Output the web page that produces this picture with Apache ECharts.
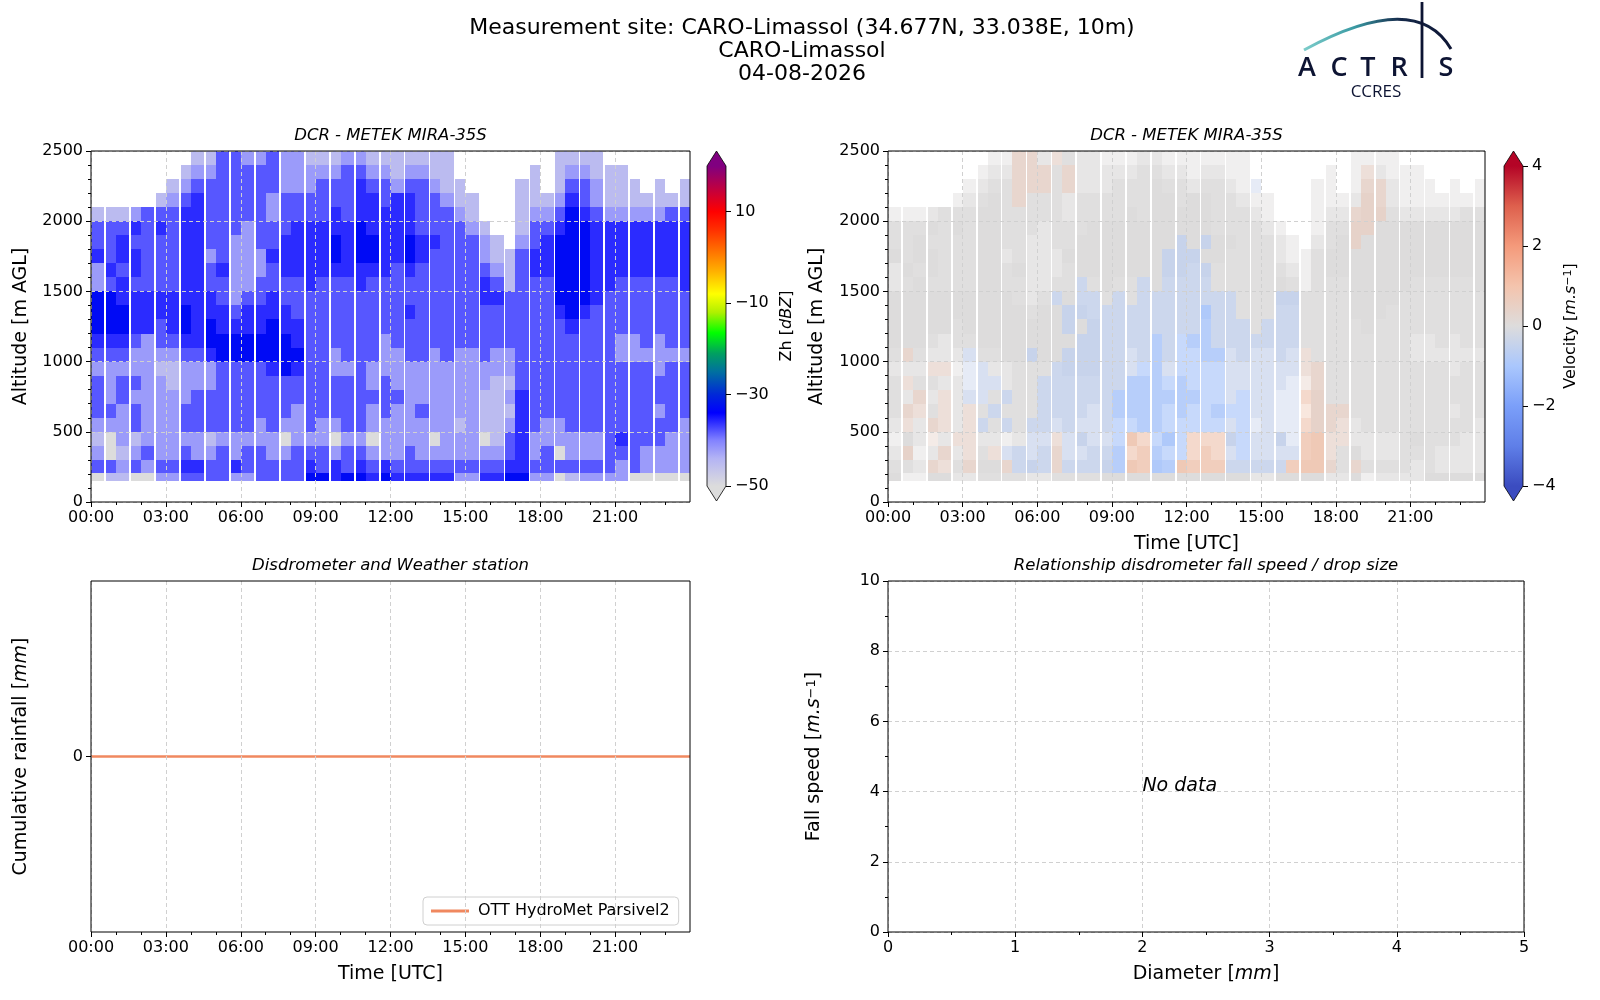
<!DOCTYPE html>
<html>
<head>
<meta charset="utf-8">
<title>CARO-Limassol quicklook 04-08-2026</title>
<script src="https://cdn.jsdelivr.net/npm/echarts@6.0.0/dist/echarts.min.js"></script>
<style>
  html, body { margin: 0; padding: 0; background: #ffffff; }
  #chart { width: 1600px; height: 1000px; }
</style>
</head>
<body>
<div id="chart"></div>
<script>
const FONT = '"DejaVu Sans", sans-serif'

// ticks
const hourTicks = [0, 3, 6, 9, 12, 15, 18, 21]
const zhBarTicks = [-50, -30, -10, 10]
const velBarTicks = [-4, -2, 0, 2, 4]
const rainTicks = [0]

// radar gates (m AGL) and the minutes of each hour that hold data (short gap at ~hh:33)
const altEdges = [150, 210, 300, 400, 500, 600, 700, 800, 900, 1000, 1100, 1200, 1300,
  1400, 1500, 1600, 1700, 1800, 1900, 2000, 2100, 2200, 2300, 2400, 2500]
const scanStartMin = [0, 36]
const scanEndMin = [32, 60]

// reflectivity, one row per gate (top -> bottom), one char per half hour, 3 h per block
// '.' no echo, g grey (<= -50), 1..5 faint -> dense
const zhRows = [
  '...... ..1133 223221 112211 11111. ...... .1111. ......',
  '...... .12233 333222 223322 12211. .....1 .12211 1.....',
  '...... 123333 333222 333433 233211 ....11 .13321 11.1.1',
  '.....1 234333 332333 333443 443321 1...11 124321 111111',
  '111233 344333 332333 343444 443332 1...12 235432 222233',
  '333434 344333 233344 444544 443333 21..13 345544 444444',
  '334333 344332 233444 454554 454433 321.23 455544 444444',
  '434433 344232 224444 454554 454333 321134 455544 444444',
  '243433 344342 223444 444444 343333 332134 455544 444444',
  '234333 344332 233334 333433 333333 343133 355544 333334',
  '554444 444432 334333 333333 333333 344333 355543 333333',
  '555444 454443 444433 333333 343333 333333 345433 333333',
  '555443 454544 445443 333333 333333 333333 334333 333333',
  '444323 344555 555543 333332 333333 333333 333333 223233',
  '333222 233455 555553 323332 233232 232233 333333 222222',
  '222221 122233 334543 322322 222222 222233 333333 333233',
  '323322 122233 333333 333323 222222 221133 333333 333333',
  '323222 223333 333333 333333 322222 211243 333333 333333',
  '332322 233333 333323 333323 223222 211143 333333 333233',
  '222322 233333 323223 223322 222221 211243 223333 333332',
  '1g2122 222122 222g22 2g22g2 222g22 2g1342 222223 433322',
  '2g1232 232232 332233 323322 232222 222342 3g2223 332222',
  '332323 344334 333334 343434 333333 333443 333333 232222',
  'g11gg2 233332 233335 545545 444442 244552 2g1222 2ggggg'
]
const zhLevel = { g: -50, 1: -45, 2: -42, 3: -38, 4: -36, 5: -33 }

// doppler velocity on the same grid: 0 still, p/P up, b/B down
const velRows = [
  '...... ..00pp 0p0000 000000 00000. ...... .0000. ......',
  '...... .000pp p0p000 000000 00000. .....0 .0p000 0.....',
  '...... 0000pp p0p000 000000 00000b ....00 .0pp00 00.0.0',
  '.....0 0000p0 000000 000000 000000 0...00 00pp00 000000',
  '000000 000000 000000 000000 000000 0...00 0ppp00 000000',
  '000000 000000 000000 000000 000000 00..00 0pp000 000000',
  '000000 000000 000000 00000b 0b0000 000.00 0p0000 000000',
  '000000 000000 000000 0000bb b00000 000000 000000 000000',
  '000000 000000 000000 0000bb bb0000 000000 000000 000000',
  '000000 000000 000b00 00b0bb bb0000 000000 000000 000000',
  '000000 000000 0b0bb0 b0bbbb bbbb00 0bb000 000000 000000',
  '000000 000000 00bbbb bbbbbb bBbb00 0bb000 000000 000000',
  '000000 000000 00b0bb bbbbbb bBbbb0 bbb000 000000 000000',
  '000000 000000 000bbb bbbBbB BBbbbb bbb000 000000 000000',
  '0p0000 b0000b 00bbbb bbbBbB BBBbbb bbbp00 000000 000000',
  '000pp0 bb0000 0bbbbb bbBBbB BBBbbb bbbpp0 000000 000000',
  '0p0000 bbb000 bbbbbb bBBBBB BBBbbb bbbpp0 000000 000000',
  '00p0p0 bb0b00 bbbbbb BBBBBB BBBbBb bbbPp0 000000 000000',
  '0pp0p0 p0b000 bbbbbb BBBBBB BBBBBb bbbPpp p00000 000000',
  '0p0pp0 pb0b0b bbbbbb BBBBBB BBBbBb bbbPpp p00000 000000',
  '000p0p p0000b bpbbbb BPPBBB PPPbBb bbbPPp p00000 000000',
  '0p00p0 p0pbbb bpbbbb BPPBBB PPPbBb bbbPPp 000000 000000',
  '000pp0 p00pbb bpbbbb BPPBBP PPPbbb bbPPPp 0p0000 000000',
  '000000 000000 000000 000000 000000 000000 000000 000000'
]
const velLevel = { 0: 0, p: 0.4, P: 0.8, b: -0.45, B: -0.9 }
// how filled a velocity cell looks, taken from the reflectivity code of the same cell
const velCover = { g: 1, 1: 0.45, 2: 0.7, 3: 0.9, 4: 1, 5: 1 }

// disdrometer
const rainHours = [0, 24]
const rainMm = [0, 0]
const noDataAt = [2, 4]

// colour maps
const zhStops = [
  [-50, '#dcdcdc'], [-44, '#b4b4f4'], [-40, '#8282ff'], [-34, '#0000ff'], [-30, '#0028d8'],
  [-25, '#0070a0'], [-21, '#00a060'], [-16.5, '#00ff00'], [-12, '#b0f000'], [-8, '#ffff00'],
  [-3, '#ffb000'], [1.5, '#ff7000'], [6, '#ff3000'], [10, '#ff0000'], [15, '#c00040'], [20, '#800080']
]
const velStops = [
  [-4, '#3b4cc0'], [-3, '#5f7fe8'], [-2, '#7b9ff9'], [-1, '#aac7fd'], [0, '#dddcdc'],
  [1, '#f4c4ad'], [2, '#f49a7b'], [3, '#de604d'], [4, '#b40426']
]

function hexToRgb(h) {
  return [parseInt(h.slice(1, 3), 16), parseInt(h.slice(3, 5), 16), parseInt(h.slice(5, 7), 16)]
}
function colorAt(stops, v) {
  if (v <= stops[0][0]) return stops[0][1]
  for (let i = 1; i < stops.length; i++) {
    if (v <= stops[i][0]) {
      const t = (v - stops[i - 1][0]) / (stops[i][0] - stops[i - 1][0])
      const a = hexToRgb(stops[i - 1][1])
      const b = hexToRgb(stops[i][1])
      return 'rgb(' + a.map((x, k) => Math.round(x + (b[k] - x) * t)).join(',') + ')'
    }
  }
  return stops[stops.length - 1][1]
}
function palette(stops, lo, hi, n) {
  const out = []
  for (let i = 0; i <= n; i++) out.push(colorAt(stops, lo + (hi - lo) * i / n))
  return out
}

function buildCells(rows, levels, coverRows, cover) {
  const cells = []
  const nRow = altEdges.length - 1
  rows.forEach((row, r) => {
    const codes = row.replace(/ /g, '')
    const coverCodes = coverRows ? coverRows[r].replace(/ /g, '') : null
    const top = altEdges[nRow - r]
    const bottom = altEdges[nRow - r - 1]
    for (let c = 0; c < codes.length; c++) {
      const ch = codes[c]
      if (levels[ch] === undefined) continue
      const a = coverCodes ? cover[coverCodes[c]] : 1
      if (a === undefined) continue
      const hour = Math.floor(c / 2)
      const half = c % 2
      cells.push([hour + scanStartMin[half] / 60, hour + scanEndMin[half] / 60, bottom, top, levels[ch], a])
    }
  })
  return cells
}

const zhCells = buildCells(zhRows, zhLevel, null, null)
const velCells = buildCells(velRows, velLevel, zhRows, velCover)

function renderCell(params, api) {
  const a = api.coord([api.value(0), api.value(3)])
  const b = api.coord([api.value(1), api.value(2)])
  const x0 = Math.round(a[0]), y0 = Math.round(a[1])
  const x1 = Math.round(b[0]), y1 = Math.round(b[1])
  return {
    type: 'rect',
    shape: { x: x0, y: y0, width: x1 - x0, height: y1 - y0 },
    style: { fill: api.visual('color'), opacity: api.value(5) }
  }
}

function colorbarRenderer(stops) {
  const lo = stops[0][0]
  const hi = stops[stops.length - 1][0]
  return function (params, api) {
    const a = api.coord([api.value(0), api.value(3)])
    const b = api.coord([api.value(1), api.value(2)])
    const x0 = a[0], x1 = b[0], yTop = a[1], yBot = b[1]
    const mid = (x0 + x1) / 2
    const tip = 15
    const grad = new echarts.graphic.LinearGradient(0, 0, 0, 1,
      stops.slice().reverse().map(s => ({ offset: (hi - s[0]) / (hi - lo), color: s[1] })))
    return {
      type: 'group',
      children: [
        { type: 'rect', shape: { x: x0, y: yTop, width: x1 - x0, height: yBot - yTop }, style: { fill: grad } },
        { type: 'polygon', shape: { points: [[x0, yTop], [x1, yTop], [mid, yTop - tip]] }, style: { fill: stops[stops.length - 1][1] } },
        { type: 'polygon', shape: { points: [[x0, yBot], [x1, yBot], [mid, yBot + tip]] }, style: { fill: stops[0][1] } },
        {
          type: 'polygon',
          shape: { points: [[mid, yBot + tip], [x0, yBot], [x0, yTop], [mid, yTop - tip], [x1, yTop], [x1, yBot]] },
          style: { fill: 'none', stroke: '#000', lineWidth: 0.8 }
        }
      ]
    }
  }
}

const fmtHour = v => (v < 10 ? '0' : '') + v + ':00'
const fmtNum = v => (v < 0 ? '\u2212' + Math.abs(v) : String(v))

const tickText = { fontSize: 16, fontFamily: FONT, color: '#000' }
const nameText = {
  fontSize: 19, fontFamily: FONT, color: '#000',
  rich: {
    i: { fontSize: 19, fontFamily: FONT, fontStyle: 'italic', color: '#000' },
    sup: { fontSize: 13, fontFamily: FONT, color: '#000', verticalAlign: 'top', lineHeight: 13 }
  }
}
const cbarNameText = {
  fontSize: 16, fontFamily: FONT, color: '#000',
  rich: {
    i: { fontSize: 16, fontFamily: FONT, fontStyle: 'italic', color: '#000' },
    sup: { fontSize: 11, fontFamily: FONT, color: '#000', verticalAlign: 'top', lineHeight: 11 }
  }
}
const gridDash = { show: true, lineStyle: { color: '#d0d0d0', type: [4, 3], width: 1 } }
const tickStyle = { color: '#000', width: 1 }

function timeAxis(gridIndex, name) {
  return {
    type: 'value', gridIndex, min: 0, max: 24, interval: 3, z: 5,
    name, nameLocation: 'middle', nameGap: 33, nameTextStyle: nameText,
    axisLine: { show: false, onZero: false },
    axisTick: { show: true, length: 5, lineStyle: tickStyle, customValues: hourTicks },
    minorTick: { show: true, splitNumber: 3, length: 3, lineStyle: tickStyle },
    axisLabel: { customValues: hourTicks, formatter: fmtHour, margin: 8, ...tickText },
    splitLine: gridDash
  }
}
function altAxis(gridIndex, gap) {
  return {
    type: 'value', gridIndex, min: 0, max: 2500, interval: 500, z: 5,
    name: 'Altitude [m AGL]', nameLocation: 'middle', nameRotate: 90, nameGap: gap, nameTextStyle: nameText,
    axisLine: { show: false, onZero: false },
    axisTick: { show: true, length: 5, lineStyle: tickStyle },
    minorTick: { show: true, splitNumber: 5, length: 3, lineStyle: tickStyle },
    axisLabel: { margin: 8, formatter: fmtNum, ...tickText },
    splitLine: gridDash
  }
}
function cbarAxis(gridIndex, lo, hi, ticks, name, gap) {
  return {
    type: 'value', gridIndex, min: lo, max: hi, position: 'right',
    name, nameLocation: 'middle', nameRotate: 90, nameGap: gap, nameTextStyle: cbarNameText,
    axisLine: { show: false, onZero: false },
    axisTick: { show: true, length: 5, lineStyle: tickStyle, customValues: ticks },
    axisLabel: { customValues: ticks, formatter: fmtNum, margin: 9, ...tickText },
    splitLine: { show: false }
  }
}
const hiddenAxis = gridIndex => ({ type: 'value', gridIndex, min: 0, max: 1, show: false })

const boxed = { show: true, borderColor: '#000', borderWidth: 1, backgroundColor: 'transparent', z: 10 }

const subTitle = (x, y, text) => ({
  type: 'text', x, y, z: 20,
  style: { text, font: 'italic 16.5px ' + FONT, fill: '#000', align: 'center', verticalAlign: 'middle' }
})
const logoLetter = (x, ch) => ({
  type: 'text', x, y: 68, z: 20,
  style: { text: ch, font: '600 27px "Open Sans", sans-serif', fill: '#0d1433', align: 'center', verticalAlign: 'middle' }
})

const option = {
  animation: false,
  backgroundColor: '#ffffff',
  grid: [
    { left: 91, top: 151, width: 599, height: 351, ...boxed },
    { left: 888, top: 151, width: 597, height: 351, ...boxed },
    { left: 91, top: 581, width: 599, height: 351, ...boxed },
    { left: 888, top: 581, width: 636, height: 351, ...boxed },
    { left: 707, top: 166, width: 19, height: 320, show: false },
    { left: 1504, top: 166, width: 19, height: 320, show: false }
  ],
  xAxis: [
    timeAxis(0, ''),
    timeAxis(1, 'Time [UTC]'),
    timeAxis(2, 'Time [UTC]'),
    {
      type: 'value', gridIndex: 3, min: 0, max: 5, interval: 1, z: 5,
      name: 'Diameter [{i|mm}]', nameLocation: 'middle', nameGap: 33, nameTextStyle: nameText,
      axisLine: { show: false, onZero: false },
      axisTick: { show: true, length: 5, lineStyle: tickStyle },
      minorTick: { show: true, splitNumber: 2, length: 3, lineStyle: tickStyle },
      axisLabel: { margin: 8, ...tickText },
      splitLine: gridDash
    },
    hiddenAxis(4),
    hiddenAxis(5)
  ],
  yAxis: [
    altAxis(0, 60),
    altAxis(1, 61),
    {
      type: 'value', gridIndex: 2, min: -0.055, max: 0.055, z: 5,
      name: 'Cumulative rainfall [{i|mm}]', nameLocation: 'middle', nameRotate: 90, nameGap: 60, nameTextStyle: nameText,
      axisLine: { show: false, onZero: false },
      axisTick: { show: true, length: 5, lineStyle: tickStyle, customValues: rainTicks },
      axisLabel: { customValues: rainTicks, margin: 8, ...tickText },
      splitLine: { show: false }
    },
    {
      type: 'value', gridIndex: 3, min: 0, max: 10, interval: 2, z: 5,
      name: 'Fall speed [{i|m.s}{sup|\u22121}]', nameLocation: 'middle', nameRotate: 90, nameGap: 64, nameTextStyle: nameText,
      axisLine: { show: false, onZero: false },
      axisTick: { show: true, length: 5, lineStyle: tickStyle },
      minorTick: { show: true, splitNumber: 2, length: 3, lineStyle: tickStyle },
      axisLabel: { margin: 8, ...tickText },
      splitLine: gridDash
    },
    cbarAxis(4, -50, 20, zhBarTicks, 'Zh [{i|dBZ}]', 53),
    cbarAxis(5, -4, 4, velBarTicks, 'Velocity [{i|m.s}{sup|\u22121}]', 40)
  ],
  visualMap: [
    {
      type: 'continuous', show: false, seriesIndex: 0, dimension: 4, min: -50, max: 20,
      inRange: { color: palette(zhStops, -50, 20, 140) }
    },
    {
      type: 'continuous', show: false, seriesIndex: 1, dimension: 4, min: -4, max: 4,
      inRange: { color: palette(velStops, -4, 4, 80) }
    }
  ],
  legend: {
    data: ['OTT HydroMet Parsivel2'],
    left: 423, top: 897,
    icon: 'rect', itemWidth: 38, itemHeight: 3,
    selectedMode: false,
    textStyle: { fontSize: 16, fontFamily: FONT, color: '#000', padding: [0, 0, 0, 4] },
    backgroundColor: 'rgba(255,255,255,0.85)',
    borderColor: '#d0d0d0', borderWidth: 1, borderRadius: 4,
    padding: [6, 9, 6, 8]
  },
  series: [
    {
      type: 'custom', name: 'Zh', xAxisIndex: 0, yAxisIndex: 0, data: zhCells,
      encode: { x: [0, 1], y: [2, 3] }, renderItem: renderCell, clip: true, silent: true
    },
    {
      type: 'custom', name: 'Velocity', xAxisIndex: 1, yAxisIndex: 1, data: velCells,
      encode: { x: [0, 1], y: [2, 3] }, renderItem: renderCell, clip: true, silent: true
    },
    {
      type: 'line', name: 'OTT HydroMet Parsivel2', xAxisIndex: 2, yAxisIndex: 2,
      data: rainHours.map((h, i) => [h, rainMm[i]]),
      symbol: 'none', color: '#f0885f', lineStyle: { width: 2.5, color: '#f0885f' }, silent: true
    },
    {
      type: 'custom', name: 'no-data', xAxisIndex: 3, yAxisIndex: 3, data: [noDataAt],
      encode: { x: 0, y: 1 }, silent: true,
      renderItem: (params, api) => {
        const p = api.coord([api.value(0), api.value(1)])
        return {
          type: 'text', x: p[0], y: p[1] + 4,
          style: { text: 'No data', font: 'italic 19px ' + FONT, fill: '#000', align: 'left', verticalAlign: 'bottom' }
        }
      }
    },
    {
      type: 'custom', name: 'zh-bar', xAxisIndex: 4, yAxisIndex: 4, data: [[0, 1, -50, 20]],
      encode: { x: [0, 1], y: [2, 3] }, clip: false, silent: true, renderItem: colorbarRenderer(zhStops)
    },
    {
      type: 'custom', name: 'vel-bar', xAxisIndex: 5, yAxisIndex: 5, data: [[0, 1, -4, 4]],
      encode: { x: [0, 1], y: [2, 3] }, clip: false, silent: true, renderItem: colorbarRenderer(velStops)
    }
  ],
  graphic: [
    {
      type: 'text', x: 802, y: 51.5, z: 20,
      style: {
        text: 'Measurement site: CARO-Limassol (34.677N, 33.038E, 10m)\nCARO-Limassol\n04-08-2026',
        font: '22px ' + FONT, fill: '#000', align: 'center', verticalAlign: 'middle', lineHeight: 23
      }
    },
    subTitle(390.5, 136, 'DCR - METEK MIRA-35S'),
    subTitle(1186.5, 136, 'DCR - METEK MIRA-35S'),
    subTitle(390.5, 566, 'Disdrometer and Weather station'),
    subTitle(1206, 566, 'Relationship disdrometer fall speed / drop size'),
    // ACTRIS logo
    {
      type: 'bezierCurve', z: 20,
      shape: { x1: 1304, y1: 50, x2: 1451, y2: 49, cpx1: 1416, cpy1: -11 },
      style: {
        fill: 'none', lineWidth: 3,
        stroke: new echarts.graphic.LinearGradient(0, 0, 1, 0, [
          { offset: 0, color: '#7fcfcc' }, { offset: 0.35, color: '#3a9aa3' },
          { offset: 0.65, color: '#15294a' }, { offset: 1, color: '#0d1433' }
        ])
      }
    },
    { type: 'line', z: 20, shape: { x1: 1422, y1: 2, x2: 1422, y2: 78 }, style: { stroke: '#0d1433', lineWidth: 2.8 } },
    logoLetter(1307, 'A'),
    logoLetter(1339, 'C'),
    logoLetter(1368, 'T'),
    logoLetter(1399, 'R'),
    logoLetter(1446, 'S'),
    {
      type: 'text', x: 1376, y: 92, z: 20,
      style: { text: 'CCRES', font: '17px "Open Sans", sans-serif', fill: '#0d1433', align: 'center', verticalAlign: 'middle' }
    }
  ]
}

const chart = echarts.init(document.getElementById('chart'))
chart.setOption(option)
</script>
</body>
</html>
